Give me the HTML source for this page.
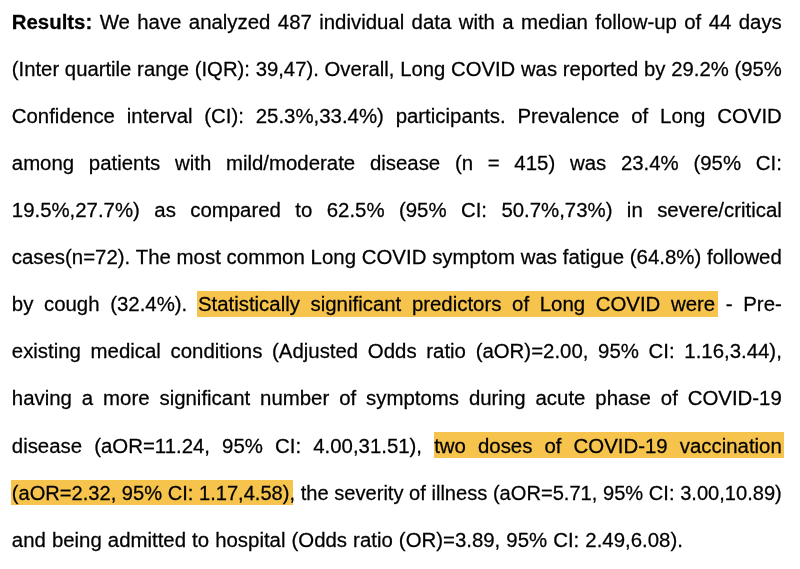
<!DOCTYPE html>
<html><head><meta charset="utf-8">
<style>
html,body{margin:0;padding:0;background:#fff;width:800px;height:569px;overflow:hidden;position:relative}
body{font-family:"Liberation Sans",sans-serif;font-size:20.4px;color:#000}
.hl{position:absolute;background:rgb(246,195,76)}
.t{position:absolute;left:0;top:0;width:800px;height:569px;-webkit-text-stroke:0.25px #000;will-change:transform}
.l{position:absolute;left:11.8px;width:770px;white-space:nowrap;text-align:justify;text-align-last:justify;height:25px;line-height:25px;transform:scaleY(1.03);transform-origin:0 19px}
.l.last{text-align:left;text-align-last:left;word-spacing:0.4px}
b{font-weight:bold}
</style></head><body>
<div class="hl" style="left:196.9px;top:291.1px;width:521px;height:25.5px"></div>
<div class="hl" style="left:434px;top:432.1px;width:349.9px;height:25.5px"></div>
<div class="hl" style="left:10.5px;top:479.5px;width:282.3px;height:25.5px"></div>
<div class="t">
<div class="l" style="top:10px"><b>Results:</b> We have analyzed 487 individual data with a median follow-up of 44 days</div>
<div class="l" style="top:57px;font-size:20.3px">(Inter quartile range (IQR): 39,47). Overall, Long COVID was reported by 29.2% (95%</div>
<div class="l" style="top:104px">Confidence interval (CI): 25.3%,33.4%) participants. Prevalence of Long COVID</div>
<div class="l" style="top:151px">among patients with mild/moderate disease (n = 415) was 23.4% (95% CI:</div>
<div class="l" style="top:198px">19.5%,27.7%) as compared to 62.5% (95% CI: 50.7%,73%) in severe/critical</div>
<div class="l" style="top:245px">cases(n=72). The most common Long COVID symptom was fatigue (64.8%) followed</div>
<div class="l" style="top:292px">by cough (32.4%). Statistically significant predictors of Long COVID were - Pre-</div>
<div class="l" style="top:339px">existing medical conditions (Adjusted Odds ratio (aOR)=2.00, 95% CI: 1.16,3.44),</div>
<div class="l" style="top:386px">having a more significant number of symptoms during acute phase of COVID-19</div>
<div class="l" style="top:434px">disease (aOR=11.24, 95% CI: 4.00,31.51), two doses of COVID-19 vaccination</div>
<div class="l" style="top:481px;font-size:20.1px">(aOR=2.32, 95% CI: 1.17,4.58), the severity of illness (aOR=5.71, 95% CI: 3.00,10.89)</div>
<div class="l last" style="top:528px">and being admitted to hospital (Odds ratio (OR)=3.89, 95% CI: 2.49,6.08).</div>
</div>
</body></html>
